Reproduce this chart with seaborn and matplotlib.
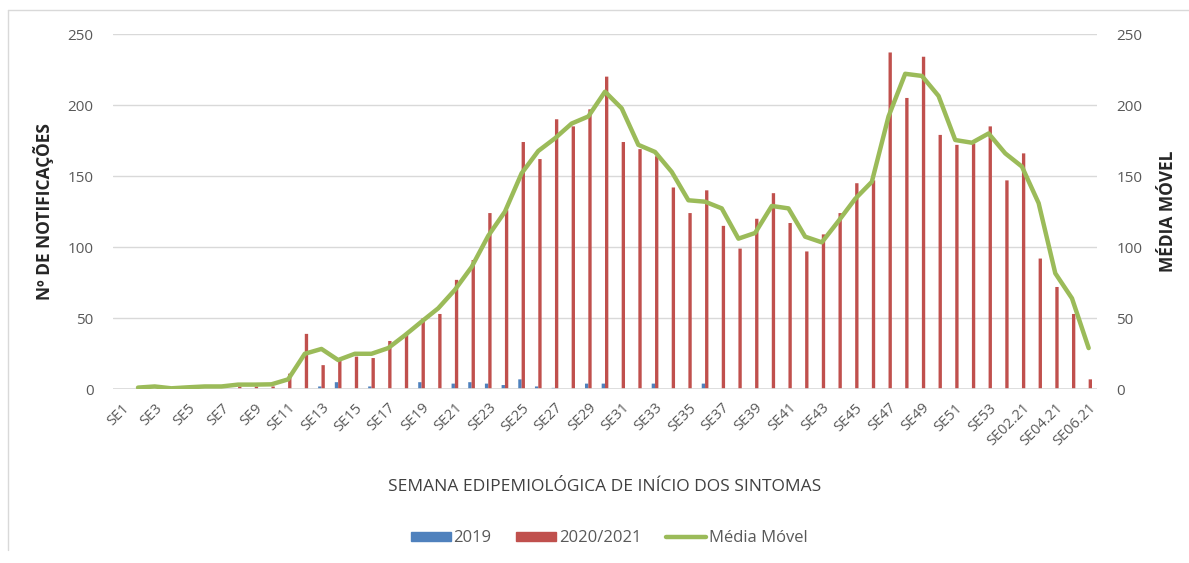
import numpy as np
import pandas as pd
import matplotlib
matplotlib.use('Agg')
import matplotlib.pyplot as plt
from matplotlib.patches import Patch
from matplotlib.lines import Line2D
import seaborn as sns

# ============================================
# Data
# ============================================
WEEKS = [f"SE{i}" for i in range(1, 54)] + [f"SE0{i}.21" for i in range(1, 7)]

CASES_2019 = [0, 0, 0, 0, 0, 0, 0, 0, 0, 0,
              0, 0, 2, 5, 0, 2, 0, 0, 5, 0,
              4, 5, 4, 3, 7, 2, 1, 0, 4, 4,
              0, 0, 4, 0, 0, 4, 0, 0, 0, 0,
              0, 0, 0, 0, 0, 0, 0, 0, 0, 0,
              0, 0, 0, 0, 0, 0, 0, 0, 0]

CASES_2020 = [0, 0, 0, 0, 0, 0, 0, 2, 2, 2,
              11, 39, 17, 22, 23, 22, 34, 39, 50, 53,
              77, 91, 124, 126, 174, 162, 190, 185, 197, 220,
              174, 169, 164, 142, 124, 140, 115, 99, 120, 138,
              117, 97, 109, 124, 145, 147, 237, 205, 234, 179,
              172, 173, 185, 147, 166, 92, 72, 53, 7]

MOVING_AVG = [np.nan, 1.2, 2, 0.7, 1.4, 2, 2, 3.3, 3.3, 3.5,
              7, 25, 28.4, 20.6, 25, 25, 29, 38, 47.6, 57,
              70, 86, 108, 125, 152, 167.7, 176.6, 187, 192, 209.4,
              197.7, 172, 167, 153, 133, 132, 127.3, 106, 110, 129,
              127.3, 107.4, 103.4, 118.4, 134, 146, 192, 222, 220.5, 206.4,
              175.4, 173.5, 180, 166, 156.7, 131, 81.6, 64, 29]

LABEL_2019 = '2019'
LABEL_2020 = '2020/2021'
LABEL_MA = 'Média Móvel'

BLUE = '#4F81BD'
RED = '#C0504D'
GREEN = '#9BBB59'
GRID = '#D9D9D9'
TICK_COLOR = '#595959'

sns.set_theme(style='white')
plt.rcParams['font.family'] = ['Open Sans', 'DejaVu Sans']

bars = pd.DataFrame({
    'semana': WEEKS * 2,
    'casos': CASES_2019 + CASES_2020,
    'ano': [LABEL_2019] * len(WEEKS) + [LABEL_2020] * len(WEEKS),
})
line = pd.DataFrame({'pos': np.arange(len(WEEKS)), 'media': MOVING_AVG}).dropna()

fig = plt.figure(figsize=(11.89, 5.63), dpi=100)
ax = fig.add_axes([113 / 1189, 1 - 389.3 / 563, 984 / 1189, 355.3 / 563])

sns.barplot(data=bars, x='semana', y='casos', hue='ano', order=WEEKS,
            hue_order=[LABEL_2019, LABEL_2020], palette=[BLUE, RED],
            width=0.4, gap=0, saturation=1, errorbar=None, ax=ax, legend=False,
            linewidth=0)
for p in ax.patches:
    p.set_snap(False)
    p.set_antialiased(True)

ax2 = ax.twinx()
sns.lineplot(data=line, x='pos', y='media', color=GREEN, linewidth=3.2, ax=ax2)

for a in (ax, ax2):
    a.set_ylim(0, 250)
    a.set_yticks(range(0, 251, 50))
    a.tick_params(axis='y', length=0, labelsize=11, colors=TICK_COLOR, pad=14)
    for s in a.spines.values():
        s.set_visible(False)
ax.set_xlim(-0.5, len(WEEKS) - 0.5)
ax2.set_xlim(-0.5, len(WEEKS) - 0.5)
ax.yaxis.grid(True, color=GRID, linewidth=1)
ax.set_axisbelow(True)
ax.axhline(0, color=GRID, linewidth=1.2)

ax.set_xticks(range(0, len(WEEKS), 2))
ax.set_xticklabels(WEEKS[::2], rotation=45, ha='right', rotation_mode='anchor',
                   fontsize=10.5, color=TICK_COLOR)
ax.tick_params(axis='x', length=0, pad=8)
ax2.set_xlabel('')

ax.set_ylabel('Nº DE NOTIFICAÇÕES', fontsize=12.5, fontweight='bold', color='#262626', labelpad=10)
ax2.set_ylabel('MÉDIA MÓVEL', fontsize=12.5, fontweight='bold', color='#262626', labelpad=12)
ax.set_xlabel('SEMANA EDIPEMIOLÓGICA DE INÍCIO DOS SINTOMAS', fontsize=12.5,
              color='#404040', labelpad=22)

handles = [Patch(color=BLUE, label=LABEL_2019),
           Patch(color=RED, label=LABEL_2020),
           Line2D([], [], color=GREEN, linewidth=3.2, label=LABEL_MA)]
leg = fig.legend(handles=handles, loc='center', bbox_to_anchor=(609 / 1189, 1 - 538 / 563),
                 ncol=3, frameon=False, fontsize=12, handlelength=2.4,
                 handleheight=0.45, columnspacing=1.5, handletextpad=0.15)
for t in leg.get_texts():
    t.set_color(TICK_COLOR)

# light outer frame
fig.add_artist(Line2D([7.5 / 1189, 7.5 / 1189], [1 - 10 / 563, 1 - 550 / 563], color=GRID, linewidth=1))
fig.add_artist(Line2D([7.5 / 1189, 1], [1 - 10 / 563, 1 - 10 / 563], color=GRID, linewidth=1))

fig.savefig('out.png', dpi=100)
